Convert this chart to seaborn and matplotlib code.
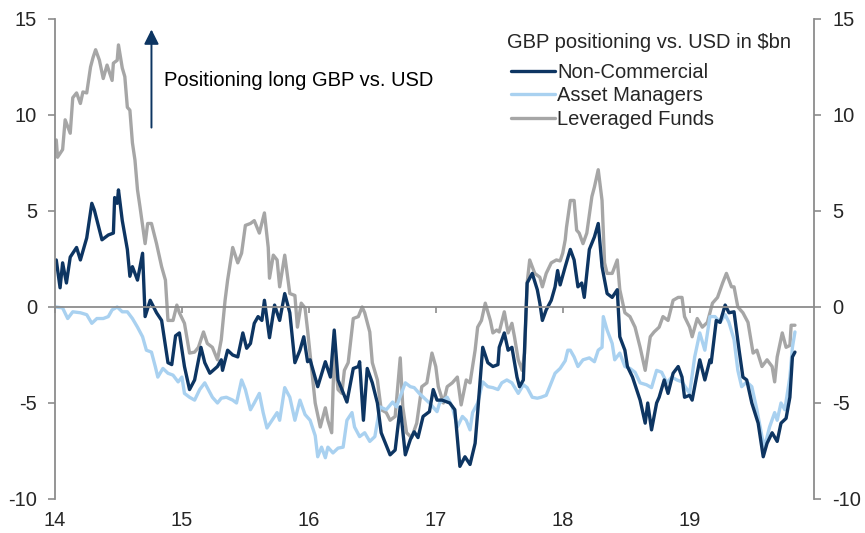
import matplotlib
matplotlib.use('Agg')
import matplotlib.pyplot as plt
import pandas as pd
import seaborn as sns

# dates as decimal years (yy.frac), values in $bn
nc_dates = [14.01, 14.04, 14.06, 14.09, 14.12, 14.17, 14.20, 14.25, 14.29, 14.31, 14.37, 14.42, 14.46, 14.47,
            14.49, 14.50, 14.53, 14.57, 14.59, 14.61, 14.65, 14.69, 14.71, 14.75, 14.80, 14.84, 14.89, 14.92,
            14.95, 14.98, 15.02, 15.06, 15.10, 15.15, 15.18, 15.22, 15.28, 15.31, 15.32, 15.36, 15.40, 15.44,
            15.48, 15.51, 15.54, 15.57, 15.60, 15.63, 15.65, 15.69, 15.73, 15.77, 15.81, 15.85, 15.89, 15.93,
            15.96, 15.99, 16.01, 16.07, 16.13, 16.17, 16.20, 16.23, 16.30, 16.35, 16.39, 16.40, 16.43, 16.46,
            16.50, 16.54, 16.57, 16.64, 16.68, 16.72, 16.76, 16.80, 16.83, 16.86, 16.90, 16.95, 16.98, 17.01,
            17.05, 17.11, 17.15, 17.19, 17.23, 17.27, 17.31, 17.33, 17.37, 17.41, 17.45, 17.49, 17.50, 17.54,
            17.57, 17.60, 17.64, 17.66, 17.69, 17.70, 17.72, 17.76, 17.80, 17.82, 17.84, 17.87, 17.91, 17.94,
            17.96, 17.98, 18.02, 18.06, 18.09, 18.12, 18.15, 18.17, 18.21, 18.25, 18.28, 18.31, 18.35, 18.39,
            18.43, 18.45, 18.49, 18.51, 18.55, 18.61, 18.65, 18.67, 18.70, 18.74, 18.76, 18.80, 18.83, 18.87,
            18.91, 18.94, 18.96, 19.00, 19.02, 19.08, 19.12, 19.16, 19.17, 19.21, 19.24, 19.28, 19.31, 19.35,
            19.39, 19.42, 19.45, 19.49, 19.54, 19.58, 19.61, 19.65, 19.69, 19.72, 19.76, 19.79, 19.81, 19.83]
nc_values = [2.45, 1.0, 2.3, 1.25, 2.6, 3.1, 2.45, 3.6, 5.4, 5.05, 3.5, 3.75, 3.85, 5.7,
             5.4, 6.1, 4.5, 3.0, 1.6, 2.1, 1.4, 2.8, -0.5, 0.35, -0.3, -0.7, -2.9, -3.0,
             -1.5, -1.35, -3.1, -4.3, -3.8, -2.1, -2.9, -3.45, -3.1, -2.75, -3.3, -2.25, -2.5, -2.6,
             -1.35, -2.15, -1.9, -0.85, -0.5, -0.7, 0.35, -1.6, 0.1, -0.7, 0.7, -0.3, -2.9, -2.25,
             -1.55, -2.85, -2.75, -4.15, -2.85, -3.65, -1.2, -3.8, -4.95, -3.2, -3.1, -2.85, -5.9, -3.2,
             -3.95, -5.0, -6.55, -7.7, -7.45, -5.2, -7.7, -6.9, -6.5, -6.8, -5.7, -5.45, -4.3, -4.85,
             -4.85, -5.0, -5.35, -8.3, -7.8, -8.2, -7.1, -5.5, -2.1, -2.9, -3.1, -3.0, -2.1, -1.35,
             -2.25, -2.1, -3.65, -4.15, -3.8, -2.1, 1.25, 1.75, 0.9, 0.2, -0.7, -0.15, 0.35, 1.05,
             1.9, 1.15, 2.1, 3.0, 2.45, 1.05, 1.25, 0.5, 3.0, 3.65, 4.35, 2.1, 0.7, 0.5,
             0.9, -1.55, -2.25, -3.1, -3.65, -4.85, -6.05, -5.0, -6.4, -5.0, -4.7, -3.8, -4.5, -3.45,
             -3.1, -3.65, -4.7, -4.6, -4.85, -2.75, -3.8, -2.75, -2.9, -0.7, -0.8, 0.1, -0.3, -0.25,
             -2.25, -3.65, -3.8, -5.0, -6.05, -7.8, -7.1, -6.55, -7.0, -6.05, -5.8, -4.7, -2.6, -2.35]

am_dates = [14.01, 14.06, 14.10, 14.14, 14.20, 14.25, 14.29, 14.33, 14.38, 14.42, 14.45, 14.49, 14.53, 14.57,
            14.61, 14.65, 14.69, 14.72, 14.76, 14.79, 14.81, 14.85, 14.89, 14.93, 14.97, 15.00, 15.02, 15.06,
            15.10, 15.14, 15.18, 15.24, 15.28, 15.31, 15.35, 15.40, 15.43, 15.47, 15.50, 15.54, 15.57, 15.61,
            15.64, 15.67, 15.71, 15.75, 15.77, 15.81, 15.85, 15.89, 15.93, 15.97, 16.01, 16.05, 16.07, 16.10,
            16.13, 16.15, 16.19, 16.23, 16.27, 16.30, 16.34, 16.36, 16.40, 16.44, 16.48, 16.52, 16.56, 16.61,
            16.66, 16.69, 16.76, 16.80, 16.83, 16.87, 16.91, 16.95, 17.01, 17.03, 17.09, 17.13, 17.17, 17.21,
            17.24, 17.27, 17.29, 17.33, 17.37, 17.41, 17.45, 17.49, 17.52, 17.56, 17.60, 17.65, 17.69, 17.72,
            17.76, 17.80, 17.83, 17.87, 17.91, 17.94, 17.98, 18.02, 18.04, 18.06, 18.09, 18.12, 18.16, 18.21,
            18.25, 18.28, 18.31, 18.32, 18.35, 18.39, 18.41, 18.45, 18.49, 18.53, 18.57, 18.61, 18.66, 18.70,
            18.74, 18.78, 18.82, 18.86, 18.90, 18.94, 18.98, 19.00, 19.04, 19.08, 19.12, 19.16, 19.20, 19.24,
            19.28, 19.31, 19.35, 19.38, 19.41, 19.45, 19.49, 19.53, 19.57, 19.59, 19.63, 19.67, 19.69, 19.72,
            19.75, 19.79, 19.81, 19.83]
am_values = [0.0, -0.05, -0.6, -0.25, -0.3, -0.4, -0.85, -0.6, -0.6, -0.5, -0.15, 0.0, -0.25, -0.25,
             -0.6, -1.05, -1.55, -2.25, -2.35, -3.1, -3.65, -3.2, -3.45, -3.55, -3.9, -3.65, -4.5, -4.7,
             -4.85, -4.3, -3.95, -4.7, -5.0, -4.75, -4.7, -4.85, -5.0, -3.8, -4.3, -5.35, -5.0, -4.5,
             -5.5, -6.3, -5.9, -5.5, -5.9, -4.2, -4.7, -5.9, -4.85, -5.6, -5.9, -6.7, -7.8, -7.3,
             -7.85, -7.3, -7.6, -7.35, -7.3, -5.9, -5.5, -6.25, -6.75, -6.55, -7.0, -6.75, -5.2, -5.35,
             -4.95, -5.2, -3.95, -4.15, -4.2, -4.5, -4.75, -5.0, -5.45, -5.0, -4.7, -5.2, -6.25, -5.7,
             -5.9, -6.4, -5.5, -5.0, -3.9, -4.15, -4.2, -4.3, -3.95, -3.8, -3.95, -4.5, -4.05, -4.2,
             -4.7, -4.75, -4.7, -4.6, -3.95, -3.45, -3.2, -2.8, -2.25, -2.25, -2.6, -3.1, -2.75, -2.65,
             -2.85, -2.25, -2.1, -0.5, -1.2, -1.9, -2.75, -2.4, -3.1, -3.2, -3.4, -3.95, -4.05, -4.2,
             -3.3, -3.4, -3.95, -3.65, -3.8, -3.9, -4.3, -4.5, -2.6, -1.35, -2.25, -0.5, -0.5, -0.8,
             -0.4, -0.8, -1.7, -3.3, -4.15, -3.9, -4.15, -5.35, -6.75, -7.3, -6.25, -5.5, -5.9, -5.0,
             -5.35, -3.65, -2.1, -1.3]

lf_dates = [14.01, 14.02, 14.06, 14.08, 14.12, 14.14, 14.17, 14.20, 14.22, 14.25, 14.28, 14.30, 14.32, 14.35,
            14.38, 14.41, 14.45, 14.46, 14.49, 14.50, 14.53, 14.55, 14.57, 14.59, 14.61, 14.63, 14.65, 14.67,
            14.71, 14.73, 14.76, 14.80, 14.84, 14.87, 14.89, 14.93, 14.96, 14.98, 15.02, 15.06, 15.10, 15.13,
            15.17, 15.20, 15.24, 15.28, 15.31, 15.34, 15.36, 15.40, 15.44, 15.47, 15.50, 15.54, 15.57, 15.61,
            15.65, 15.68, 15.69, 15.72, 15.75, 15.77, 15.81, 15.85, 15.89, 15.91, 15.94, 15.97, 15.99, 16.02,
            16.05, 16.09, 16.13, 16.15, 16.18, 16.20, 16.23, 16.26, 16.28, 16.31, 16.35, 16.39, 16.42, 16.44,
            16.48, 16.50, 16.54, 16.57, 16.61, 16.64, 16.68, 16.72, 16.74, 16.77, 16.81, 16.85, 16.89, 16.93,
            16.97, 17.00, 17.02, 17.06, 17.09, 17.13, 17.17, 17.20, 17.24, 17.27, 17.31, 17.33, 17.36, 17.39,
            17.43, 17.45, 17.48, 17.50, 17.54, 17.57, 17.60, 17.62, 17.65, 17.68, 17.70, 17.72, 17.74, 17.78,
            17.82, 17.84, 17.87, 17.91, 17.95, 17.98, 18.00, 18.02, 18.03, 18.06, 18.09, 18.11, 18.13, 18.16,
            18.19, 18.23, 18.25, 18.28, 18.31, 18.33, 18.35, 18.39, 18.43, 18.45, 18.49, 18.53, 18.57, 18.61,
            18.65, 18.69, 18.72, 18.76, 18.79, 18.83, 18.87, 18.91, 18.94, 18.96, 19.00, 19.02, 19.06, 19.10,
            19.14, 19.18, 19.22, 19.26, 19.29, 19.33, 19.35, 19.38, 19.42, 19.46, 19.50, 19.53, 19.57, 19.61,
            19.65, 19.67, 19.69, 19.73, 19.76, 19.79, 19.80, 19.83]
lf_values = [8.7, 7.8, 8.2, 9.75, 9.05, 10.9, 11.15, 10.6, 11.2, 11.15, 12.5, 13.0, 13.4, 12.85,
             11.9, 12.6, 11.8, 12.7, 12.85, 13.65, 12.45, 12.0, 10.4, 10.25, 8.55, 7.65, 6.1, 5.2,
             3.3, 4.35, 4.35, 3.3, 2.1, 1.4, -0.7, -0.7, 0.1, -0.3, -0.85, -2.4, -2.35, -2.1,
             -1.3, -1.9, -2.1, -2.75, -1.7, 0.35, 1.4, 3.1, 2.3, 2.8, 4.25, 4.35, 4.5, 3.85,
             4.9, 3.1, 1.5, 2.7, 2.45, 1.05, 2.7, 0.7, 0.6, -1.05, 0.2, -0.05, -1.2, -3.1,
             -5.0, -6.25, -5.25, -5.9, -6.55, -2.35, -4.3, -4.5, -3.3, -2.9, -0.6, -0.5, 0.0, -0.3,
             -1.3, -2.9, -3.8, -5.35, -5.5, -5.9, -5.7, -2.65, -5.2, -6.55, -6.8, -6.05, -4.15, -3.95,
             -2.4, -3.1, -4.15, -5.0, -4.15, -3.95, -3.65, -5.1, -3.8, -3.95, -2.25, -1.05, -0.7, 0.2,
             -0.7, -1.35, -1.2, -1.3, -0.25, -1.35, -0.85, -1.55, -2.75, -3.3, -2.4, 1.25, 2.45, 1.75,
             1.55, 1.05, 1.75, 2.3, 2.45, 2.4, 2.8, 3.5, 4.15, 5.55, 5.55, 4.0, 3.85, 3.3,
             3.85, 5.75, 6.25, 7.15, 5.55, 2.3, 1.75, 1.75, 2.45, 0.9, -0.3, -0.5, -1.05, -2.1,
             -3.3, -1.55, -1.3, -1.05, -0.5, -0.7, 0.35, 0.5, 0.5, -0.5, -1.05, -1.55, -0.6, -1.05,
             -0.8, 0.2, 0.5, 1.25, 1.75, 1.05, 1.05, 0.0, -0.3, -0.8, -2.4, -2.25, -3.1, -2.75,
             -3.1, -3.9, -2.6, -1.35, -2.1, -2.0, -0.95, -0.95]

series_names = ['Non-Commercial', 'Asset Managers', 'Leveraged Funds']
series_colors = ['#0d3562', '#a9d1f0', '#a6a6a6']
year_ticks = [14, 15, 16, 17, 18, 19]
y_ticks = [-10, -5, 0, 5, 10, 15]

legend_title = 'GBP positioning vs. USD in $bn'
arrow_text = 'Positioning long GBP vs. USD'

df = pd.concat([
    pd.DataFrame({'date': nc_dates, 'value': nc_values, 'series': series_names[0]}),
    pd.DataFrame({'date': am_dates, 'value': am_values, 'series': series_names[1]}),
    pd.DataFrame({'date': lf_dates, 'value': lf_values, 'series': series_names[2]}),
])

sns.set_style('white')
plt.rcParams['font.family'] = ['Liberation Sans', 'DejaVu Sans']
plt.rcParams['axes.unicode_minus'] = False
FS = 14.5
GREY = '#8c8c8c'

fig = plt.figure(figsize=(8.65, 5.33), dpi=100)
ax = fig.add_axes([55 / 865, 34 / 533, 759 / 865, 480 / 533])

# draw order: grey first, navy on top
palette = dict(zip(series_names, series_colors))
for name in [series_names[2], series_names[1], series_names[0]]:
    sns.lineplot(data=df[df['series'] == name], x='date', y='value', color=palette[name],
                 lw=2.4, estimator=None, sort=True, label=name, ax=ax)

ax.set_xlim(14, 19.98)
ax.set_ylim(-10, 15)
ax.set_xlabel('')
ax.set_ylabel('')

# zero line acts as x-axis with downward ticks
ax.spines['bottom'].set_position(('data', 0))
ax.spines['bottom'].set_color(GREY)
ax.spines['bottom'].set_linewidth(1.3)
ax.spines['top'].set_visible(False)
for s in ['left', 'right']:
    ax.spines[s].set_color(GREY)
    ax.spines[s].set_linewidth(1.3)

ax.set_xticks(year_ticks)
ax.tick_params(axis='x', direction='out', length=4, width=1.2, color=GREY, labelbottom=False, bottom=True)
ax.set_yticks(y_ticks)
ax.tick_params(axis='y', direction='out', length=5, width=1.2, color=GREY, labelsize=FS,
               left=True, right=True, labelleft=True, labelright=True, pad=8)

sec = ax.secondary_xaxis('bottom')
sec.set_xticks(year_ticks)
sec.set_xticklabels([str(y) for y in year_ticks])
sec.tick_params(length=0, labelsize=FS, pad=9)
sec.spines['bottom'].set_visible(False)

# arrow and label
ax.annotate('', xy=(14.76, 14.6), xytext=(14.76, 9.2),
            arrowprops=dict(arrowstyle='-|>', color=series_colors[0], lw=1.4, mutation_scale=22))
ax.text(14.86, 11.8, arrow_text, fontsize=FS, va='center', ha='left', color='black')

fig.text(507 / 865, 1 - 42 / 533, legend_title, fontsize=FS, va='center', ha='left')
h, l = ax.get_legend_handles_labels()
order = [l.index(n) for n in series_names]
leg = ax.legend([h[i] for i in order], [l[i] for i in order],
                loc='upper left', bbox_to_anchor=(511 / 865, 1 - 63 / 533), bbox_transform=fig.transFigure,
                frameon=False, fontsize=FS, handlelength=2.2, handletextpad=0.1,
                labelspacing=0.22, borderpad=0, borderaxespad=0)
for line in leg.get_lines():
    line.set_linewidth(2.4)

fig.savefig('out.png', dpi=100)
